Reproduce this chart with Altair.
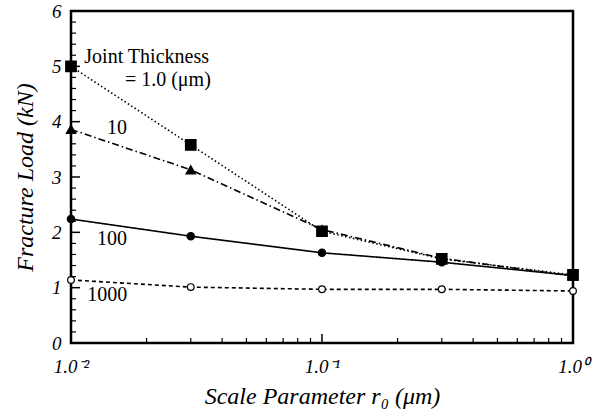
import altair as alt
import pandas as pd

# ---- data ----
scale_param = [0.01, 0.03, 0.1, 0.3, 1.0]
load_t1 = [5.00, 3.58, 2.02, 1.52, 1.23]
load_t10 = [3.86, 3.13, 2.05, 1.53, 1.21]
load_t100 = [2.24, 1.93, 1.63, 1.46, 1.22]
load_t1000 = [1.14, 1.01, 0.97, 0.97, 0.94]

label_texts = ["Joint Thickness", "= 1.0 (μm)", "10", "100", "1000"]
label_x = [0.0113, 0.0164, 0.0139, 0.0127, 0.0116]
label_y = [5.17, 4.76, 3.89, 1.88, 0.87]

y_major = [0, 1, 2, 3, 4, 5, 6]
y_minor = [round(i * 0.2, 1) for i in range(31) if i % 5 != 0]
x_major = [0.01, 0.1, 1.0]
x_minor = [m * d for d in (0.01, 0.1) for m in range(2, 10)]

W, H = 502, 332
FONT = "Liberation Serif"

xscale = alt.Scale(type="log", domain=[0.01, 1.0], nice=False)
yscale = alt.Scale(domain=[0, 6], nice=False)

x_axis = alt.Axis(
    values=x_major,
    labelExpr="datum.value < 0.05 ? '1.0⁻²' : (datum.value < 0.5 ? '1.0⁻¹' : '1.0⁰')",
    labelPadding=14, labelFlush=False,
    labelFont=FONT, titleFont=FONT,
    title="Scale Parameter  r₀  (μm)", titlePadding=8,
)
y_axis = alt.Axis(
    values=y_major, labelPadding=10,
    labelFont=FONT, titleFont=FONT,
    title="Fracture Load  (kN)", titlePadding=14,
)


def X(field):
    return alt.X(field, scale=xscale, axis=x_axis)


def Y(field):
    return alt.Y(field, scale=yscale, axis=y_axis)


series = [
    (load_t1, [1.5, 2.5], "square", True, 110),
    (load_t10, [7, 3, 1.5, 3], "triangle-up", True, 90),
    (load_t100, [1, 0], "circle", True, 55),
    (load_t1000, [4, 3], "circle", False, 45),
]

layers = []
for vals, dash, shape, filled, size in series:
    df = pd.DataFrame({"r": scale_param, "load": vals})
    line = alt.Chart(df).mark_line(color="black", strokeWidth=1.6, strokeDash=dash).encode(
        x=X("r:Q"), y=Y("load:Q"))
    pts = alt.Chart(df).mark_point(
        shape=shape, filled=filled, size=size, color="black",
        fill="black" if filled else "white", stroke="black", strokeWidth=1.2, opacity=1,
    ).encode(x=X("r:Q"), y=Y("load:Q"))
    layers += [line, pts]

# inward ticks
ymaj_df = pd.DataFrame({"v": y_major})
ymin_df = pd.DataFrame({"v": y_minor})
xmaj_df = pd.DataFrame({"v": x_major})
xmin_df = pd.DataFrame({"v": x_minor})

ytick_major = alt.Chart(ymaj_df).mark_rule(color="black", strokeWidth=1.5).encode(
    y=Y("v:Q"), x=alt.value(0), x2=alt.value(9))
ytick_minor = alt.Chart(ymin_df).mark_rule(color="black", strokeWidth=1.2).encode(
    y=Y("v:Q"), x=alt.value(0), x2=alt.value(5))
xtick_major = alt.Chart(xmaj_df).mark_rule(color="black", strokeWidth=1.5).encode(
    x=X("v:Q"), y=alt.value(H), y2=alt.value(H - 9))
xtick_minor = alt.Chart(xmin_df).mark_rule(color="black", strokeWidth=1.2).encode(
    x=X("v:Q"), y=alt.value(H), y2=alt.value(H - 5))

lab_df = pd.DataFrame({"t": label_texts, "x": label_x, "y": label_y})
labels = alt.Chart(lab_df).mark_text(
    font=FONT, fontSize=20, color="black", align="left", baseline="middle"
).encode(x=X("x:Q"), y=Y("y:Q"), text="t:N")

chart = alt.layer(*layers, ytick_major, ytick_minor, xtick_major, xtick_minor, labels).properties(
    width=W, height=H,
    autosize=alt.AutoSizeParams(type="none"),
    padding={"left": 71, "top": 11, "right": 27, "bottom": 73},
    background="white",
).configure(
    font=FONT
).configure_view(
    stroke="black", strokeWidth=2.5
).configure_axis(
    grid=False, ticks=False, domain=False,
    labelFont=FONT, labelFontStyle="italic", labelFontSize=19, labelColor="black",
    titleFont=FONT, titleFontStyle="italic", titleFontWeight="normal",
    titleFontSize=24, titleColor="black",
)

chart.save("out.html", embed_options={"renderer": "svg", "actions": False})
